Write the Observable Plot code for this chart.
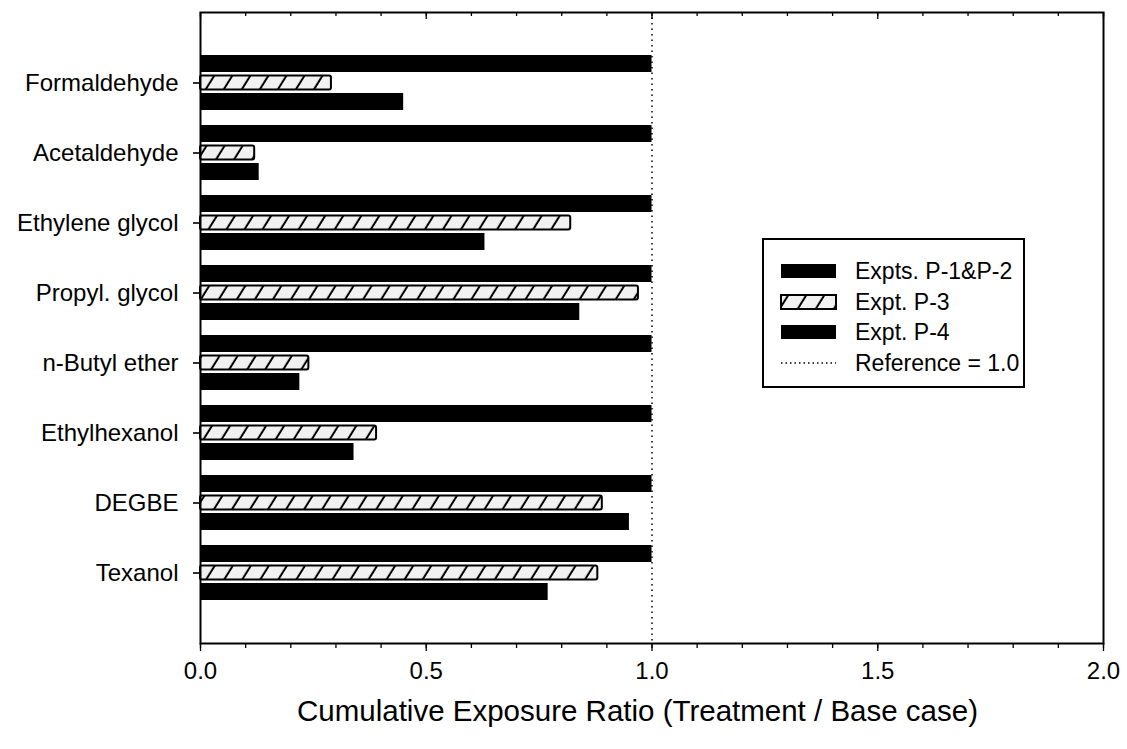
<!DOCTYPE html>
<html>
<head>
<meta charset="utf-8">
<script src="https://cdn.jsdelivr.net/npm/d3@7"></script>
<script src="https://cdn.jsdelivr.net/npm/@observablehq/plot@0.6"></script>
<style>
  body { margin: 0; background: #fff; font-family: "Liberation Sans", Arial, sans-serif; color: #000; }
  #wrap { position: relative; width: 1127px; height: 749px; overflow: hidden; }
  #xtitle { position: absolute; left: 186px; width: 903px; top: 694px; text-align: center; font-size: 29.5px; line-height: 34px; }
  #legend { position: absolute; left: 762px; top: 238px; width: 259px; height: 146px; border: 2px solid #000; background: #fff; }
  .lrow { position: absolute; left: 16px; height: 30px; display: flex; align-items: center; font-size: 23px; white-space: nowrap; }
  .lrow svg { margin-right: 18px; }
</style>
</head>
<body>
<div id="wrap">
  <div id="chart"></div>
  <div id="xtitle"></div>
  <div id="legend"></div>
</div>
<script>
// Cumulative exposure ratios (treatment / base case) per compound and experiment
const compounds = ["Formaldehyde", "Acetaldehyde", "Ethylene glycol", "Propyl. glycol",
                   "n-Butyl ether", "Ethylhexanol", "DEGBE", "Texanol"];
const exptsP1P2 = [1.0, 1.0, 1.0, 1.0, 1.0, 1.0, 1.0, 1.0];
const exptP3    = [0.29, 0.12, 0.82, 0.97, 0.24, 0.39, 0.89, 0.88];
const exptP4    = [0.45, 0.13, 0.63, 0.84, 0.22, 0.34, 0.95, 0.77];
const referenceValue = 1.0;

const xMajorTicks = [0.0, 0.5, 1.0, 1.5, 2.0];
const xMinorTicks = [0.0, 0.1, 0.2, 0.3, 0.4, 0.5, 0.6, 0.7, 0.8, 0.9, 1.0,
                     1.1, 1.2, 1.3, 1.4, 1.5, 1.6, 1.7, 1.8, 1.9, 2.0];
const xTitle = "Cumulative Exposure Ratio (Treatment / Base case)";
const seriesLabels = ["Expts. P-1&P-2", "Expt. P-3", "Expt. P-4", "Reference = 1.0"];

const rows = compounds.map((compound, i) => ({
  compound, p12: exptsP1P2[i], p3: exptP3[i], p4: exptP4[i]
}));

const noLabels = () => "";

const chart = Plot.plot({
  width: 1127,
  height: 690,
  marginLeft: 200,
  marginRight: 24,
  marginTop: 12,
  marginBottom: 47,
  style: { fontFamily: "'Liberation Sans', Arial, sans-serif", fontSize: "24px", color: "#000", background: "#fff" },
  x: { domain: [0, 2] },
  y: { domain: compounds, paddingInner: 0.757, paddingOuter: 0.8785 },
  marks: [
    Plot.barX(rows, { x: "p12", y: "compound", fill: "#000", dy: -19 }),
    Plot.barX(rows, { x: "p3", y: "compound", fill: "url(#hatchP3)", stroke: "#000", strokeWidth: 2,
                      insetTop: 1.5, insetBottom: 1.5, rx: 2 }),
    Plot.barX(rows, { x: "p4", y: "compound", fill: "#000", dy: 19 }),
    Plot.ruleX([referenceValue], { stroke: "#000", strokeWidth: 1.5, strokeDasharray: "1.5,4" }),
    Plot.axisY({ anchor: "left", tickSize: 7, tickPadding: 15, strokeWidth: 1.6, label: null, fontSize: 24 }),
    // bottom edge: outward ticks, labelled at the major positions
    Plot.axisX(xMinorTicks, { anchor: "bottom", tickSize: 5, strokeWidth: 1.3, tickFormat: noLabels, label: null }),
    Plot.axisX(xMajorTicks, { anchor: "bottom", tickSize: 8, strokeWidth: 1.3, tickPadding: 10,
                              tickFormat: d3.format(".1f"), label: null, fontSize: 24 }),
    // top edge: short ticks pointing into the plot
    Plot.axisX(xMinorTicks, { anchor: "bottom", frameAnchor: "top", tickSize: 4, strokeWidth: 1.3,
                              tickFormat: noLabels, label: null }),
    Plot.axisX(xMajorTicks, { anchor: "bottom", frameAnchor: "top", tickSize: 7, strokeWidth: 1.3,
                              tickFormat: noLabels, label: null }),
    Plot.frame({ stroke: "#000", strokeWidth: 2 })
  ]
});

// diagonal hatch with a light stipple ground for the P-3 bars
const defs = d3.select(chart).insert("defs", ":first-child");
const pat = defs.append("pattern")
  .attr("id", "hatchP3")
  .attr("patternUnits", "userSpaceOnUse")
  .attr("width", 15.3).attr("height", 10)
  .attr("patternTransform", "rotate(32)");
pat.append("rect").attr("width", 15.3).attr("height", 10).attr("fill", "#f1f1f1");
pat.append("line").attr("x1", 7.6).attr("x2", 7.6).attr("y1", -1).attr("y2", 11)
  .attr("stroke", "#000").attr("stroke-width", 2);

document.getElementById("chart").appendChild(chart);
document.getElementById("xtitle").textContent = xTitle;

// legend box inside the plot area
const legend = d3.select("#legend");
const swatches = [
  s => s.append("rect").attr("x", 1).attr("y", 1).attr("width", 55).attr("height", 14).attr("fill", "#000"),
  s => s.append("rect").attr("x", 1).attr("y", 1).attr("width", 55).attr("height", 14)
        .attr("fill", "url(#hatchP3)").attr("stroke", "#000").attr("stroke-width", 2),
  s => s.append("rect").attr("x", 1).attr("y", 1).attr("width", 55).attr("height", 14).attr("fill", "#000"),
  s => s.append("line").attr("x1", 1).attr("x2", 56).attr("y1", 8).attr("y2", 8)
        .attr("stroke", "#000").attr("stroke-width", 1.5).attr("stroke-dasharray", "1.5,3")
];
const rowTops = [16, 47, 77, 108];
seriesLabels.forEach((label, i) => {
  const row = legend.append("div").attr("class", "lrow").style("top", rowTops[i] + "px");
  const svg = row.append("svg").attr("width", 57).attr("height", 16);
  swatches[i](svg);
  row.append("span").text(label);
});
</script>
</body>
</html>
